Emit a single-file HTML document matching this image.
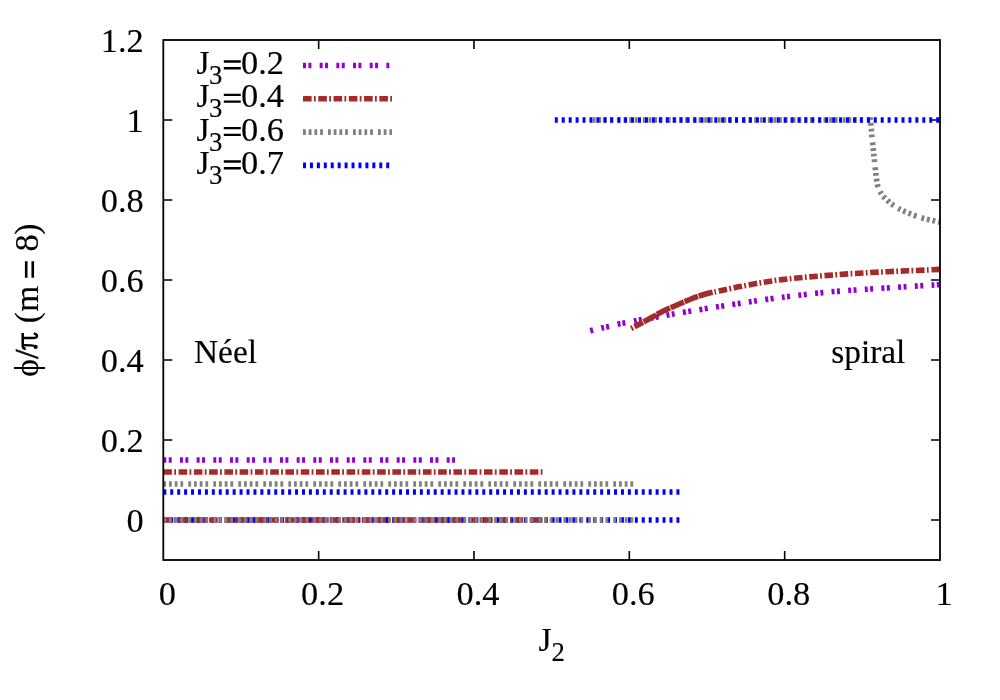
<!DOCTYPE html>
<html><head><meta charset="utf-8"><title>plot</title>
<style>
html,body{margin:0;padding:0;background:#fff;}
svg{display:block;will-change:transform;}
text{font-family:"Liberation Serif",serif;font-size:33.4px;fill:#000;stroke:#000;stroke-width:0.15px;}
.c{fill:none;stroke-width:5.6;stroke-linecap:butt;stroke-linejoin:miter;}
.ax{fill:none;stroke:#000;}
.n{font-size:34.4px;}
</style></head><body>
<svg width="1000" height="700" viewBox="0 0 1000 700">
<rect width="1000" height="700" fill="#fff"/>

<path class="ax" stroke-width="1.6" d="M318.64,560.0v-9M318.64,40.0v9M473.98,560.0v-9M473.98,40.0v9M629.32,560.0v-9M629.32,40.0v9M784.66,560.0v-9M784.66,40.0v9M163.3,520.00h9M940.0,520.00h-9M163.3,440.00h9M940.0,440.00h-9M163.3,360.00h9M940.0,360.00h-9M163.3,280.00h9M940.0,280.00h-9M163.3,200.00h9M940.0,200.00h-9M163.3,120.00h9M940.0,120.00h-9"/>
<g class="c">
<path d="M163.3,460.0 L455.0,460.0" stroke="#9400d3" stroke-dasharray="3 2.4 3 8.27" />
<path d="M163.3,472.0 L543.9,472.0" stroke="#a52a2a" stroke-dasharray="8.6 2.3 1.8 2.57" />
<path d="M163.3,484.0 L633.2,484.0" stroke="#808080" stroke-dasharray="2.8 2.9 2.8 2.9 2.8 2.9 2.8 5.1" />
<path d="M163.3,492.0 L679.8,492.0" stroke="#0000ff" stroke-dasharray="3 3.934" />
<path d="M163.3,520.0 L455.0,520.0" stroke="#9400d3" stroke-dasharray="3 2.4 3 8.27" />
<path d="M163.3,520.0 L679.8,520.0" stroke="#0000ff" stroke-dasharray="3 3.934" />
<path d="M163.3,520.0 L548.0,520.0" stroke="#a52a2a" stroke-dasharray="8.6 2.3 1.8 2.57" />
<path d="M163.3,520.0 L633.2,520.0" stroke="#808080" stroke-dasharray="2.8 2.9 2.8 2.9 2.8 2.9 2.8 5.1" />
<path d="M590.20,330.80C592.20,330.30 599.32,328.48 602.20,327.80C605.08,327.12 604.78,327.33 607.50,326.70C610.22,326.07 615.75,324.62 618.50,324.00C621.25,323.38 621.25,323.53 624.00,323.00C626.75,322.47 632.25,321.35 635.00,320.80C637.75,320.25 636.83,320.33 640.50,319.70C644.17,319.07 652.00,317.87 657.00,317.00C662.00,316.13 665.58,315.37 670.50,314.50C675.42,313.63 681.00,312.72 686.50,311.80C692.00,310.88 697.75,309.93 703.50,309.00C709.25,308.07 715.48,307.07 721.00,306.20C726.52,305.33 731.15,304.63 736.60,303.80C742.05,302.97 746.13,302.28 753.70,301.20C761.27,300.12 770.28,298.75 782.00,297.30C793.72,295.85 810.00,293.83 824.00,292.50C838.00,291.17 852.00,290.28 866.00,289.30C880.00,288.32 895.67,287.38 908.00,286.60C920.33,285.82 934.67,284.93 940.00,284.60" stroke="#9400d3" stroke-dasharray="3 2.4 3 8.27" stroke-dashoffset="5.4"/>
<path d="M631.2,328.5 L632.9,327.6" stroke="#a52a2a" stroke-dasharray="none"/>
<path d="M634.50,326.70C635.20,326.33 636.28,325.78 638.70,324.50C641.12,323.22 645.03,321.17 649.00,319.00C652.97,316.83 657.83,313.83 662.50,311.50C667.17,309.17 672.25,307.08 677.00,305.00C681.75,302.92 686.25,300.83 691.00,299.00C695.75,297.17 701.90,295.12 705.50,294.00C709.10,292.88 711.42,292.58 712.60,292.30" stroke="#a52a2a" stroke-dasharray="14.45 0.75" stroke-dashoffset="4.8"/>
<path d="M714.50,291.90C716.08,291.58 719.75,290.88 724.00,290.00C728.25,289.12 733.83,287.82 740.00,286.60C746.17,285.38 754.00,283.87 761.00,282.70C768.00,281.53 775.00,280.48 782.00,279.60C789.00,278.72 796.00,278.05 803.00,277.40C810.00,276.75 817.00,276.25 824.00,275.70C831.00,275.15 838.00,274.58 845.00,274.10C852.00,273.62 859.00,273.20 866.00,272.80C873.00,272.40 880.00,272.03 887.00,271.70C894.00,271.37 901.00,271.10 908.00,270.80C915.00,270.50 923.67,270.13 929.00,269.90C934.33,269.67 938.17,269.48 940.00,269.40" stroke="#a52a2a" stroke-dasharray="8.6 2.3 1.8 2.57" stroke-dashoffset="10.9"/>
<path d="M592.8,120L870.30,120.00C870.40,120.77 870.65,122.03 870.90,124.60C871.15,127.17 871.42,131.32 871.80,135.40C872.18,139.48 872.77,144.97 873.20,149.10C873.63,153.23 873.95,156.00 874.40,160.20C874.85,164.40 875.38,170.18 875.90,174.30C876.42,178.42 877.02,182.45 877.50,184.90C877.98,187.35 878.27,187.68 878.80,189.00C879.33,190.32 879.87,191.48 880.70,192.80C881.53,194.12 882.65,195.62 883.80,196.90C884.95,198.18 886.32,199.32 887.60,200.50C888.88,201.68 889.57,202.60 891.50,204.00C893.43,205.40 896.25,207.33 899.20,208.90C902.15,210.47 905.37,211.88 909.20,213.40C913.03,214.92 918.23,216.80 922.20,218.00C926.17,219.20 930.03,219.90 933.00,220.60C935.97,221.30 938.83,221.93 940.00,222.20" stroke="#808080" stroke-dasharray="2.8 2.9 2.8 2.9 2.8 2.9 2.8 5.1"/>
<path d="M554.8,120.0 L940.0,120.0" stroke="#0000ff" stroke-dasharray="3 3.934" />
<path d="M303.0,65.5 L391.6,65.5" stroke="#9400d3" stroke-dasharray="3 2.4 3 8.27" />
<path d="M303.0,98.8 L392.0,98.8" stroke="#a52a2a" stroke-dasharray="8.6 2.3 1.8 2.57" />
<path d="M303.0,132.1 L392.0,132.1" stroke="#808080" stroke-dasharray="2.8 2.9 2.8 2.9 2.8 2.9 2.8 5.1" />
<path d="M303.0,165.4 L392.0,165.4" stroke="#0000ff" stroke-dasharray="3 3.934" />
</g>
<rect class="ax" x="163.3" y="40.0" width="776.7" height="520.0" stroke-width="1.8"/>
<text x="167.3" y="604.5" class="n" text-anchor="middle">0</text>
<text x="322.6" y="604.5" class="n" text-anchor="middle">0.2</text>
<text x="478.0" y="604.5" class="n" text-anchor="middle">0.4</text>
<text x="633.3" y="604.5" class="n" text-anchor="middle">0.6</text>
<text x="788.7" y="604.5" class="n" text-anchor="middle">0.8</text>
<text x="944.0" y="604.5" class="n" text-anchor="middle">1</text>
<text class="n" x="143.7" y="531.6" text-anchor="end">0</text>
<text class="n" x="143.7" y="451.6" text-anchor="end">0.2</text>
<text class="n" x="143.7" y="371.6" text-anchor="end">0.4</text>
<text class="n" x="143.7" y="291.6" text-anchor="end">0.6</text>
<text class="n" x="143.7" y="211.6" text-anchor="end">0.8</text>
<text class="n" x="143.7" y="131.6" text-anchor="end">1</text>
<text class="n" x="143.7" y="51.6" text-anchor="end">1.2</text>
<text y="73.9"><tspan x="196.6">J</tspan><tspan x="209.1" dy="10" font-size="26.7">3</tspan><tspan class="n" x="284" dy="-10" text-anchor="end">0.2</tspan></text>
<text y="107.2"><tspan x="196.6">J</tspan><tspan x="209.1" dy="10" font-size="26.7">3</tspan><tspan class="n" x="284" dy="-10" text-anchor="end">0.4</tspan></text>
<text y="140.5"><tspan x="196.6">J</tspan><tspan x="209.1" dy="10" font-size="26.7">3</tspan><tspan class="n" x="284" dy="-10" text-anchor="end">0.6</tspan></text>
<text y="173.8"><tspan x="196.6">J</tspan><tspan x="209.1" dy="10" font-size="26.7">3</tspan><tspan class="n" x="284" dy="-10" text-anchor="end">0.7</tspan></text>
<path d="M223.8,61.55h17M223.8,68.30h17" stroke="#000" stroke-width="2.4" fill="none"/>
<path d="M223.8,94.85h17M223.8,101.60h17" stroke="#000" stroke-width="2.4" fill="none"/>
<path d="M223.8,128.15h17M223.8,134.90h17" stroke="#000" stroke-width="2.4" fill="none"/>
<path d="M223.8,161.45h17M223.8,168.20h17" stroke="#000" stroke-width="2.4" fill="none"/>
<text x="194" y="362.7">Néel</text>
<text x="831.2" y="363">spiral</text>
<text x="551.7" y="651" text-anchor="middle">J<tspan font-size="26.7" dy="9.8">2</tspan></text>
<text transform="translate(38.3,380) rotate(-90)"><tspan x="3.2">ϕ</tspan><tspan x="21.2" stroke-width="0.6">/</tspan><tspan x="56.8">(</tspan><tspan x="68.2">m</tspan><tspan class="n" x="128.4">8</tspan><tspan x="145.2">)</tspan></text>
<g transform="translate(38.3,380) rotate(-90)" fill="none" stroke="#000" stroke-linecap="butt"><path d="M30.9,-12.6C31.3,-14.6 32.4,-15.6 34.2,-15.6L46.9,-15.6" stroke-width="2.5"/><path d="M41.9,-15.2L41.9,-4.6C41.9,-1.6 43.6,-0.7 45,-1.6C45.9,-2.2 46.3,-3.2 46.5,-4.6" stroke-width="2.5"/><path d="M34.8,-15.2L34.7,-7.5C34.6,-5 34.2,-3.4 33.4,-2.2" stroke-width="2.3"/><circle cx="33.1" cy="-2.7" r="2.1" fill="#000" stroke="none"/></g>
<path d="M26.2,261.3v16.4M32.75,261.3v16.4" stroke="#000" stroke-width="2.6" fill="none"/>
</svg></body></html>
